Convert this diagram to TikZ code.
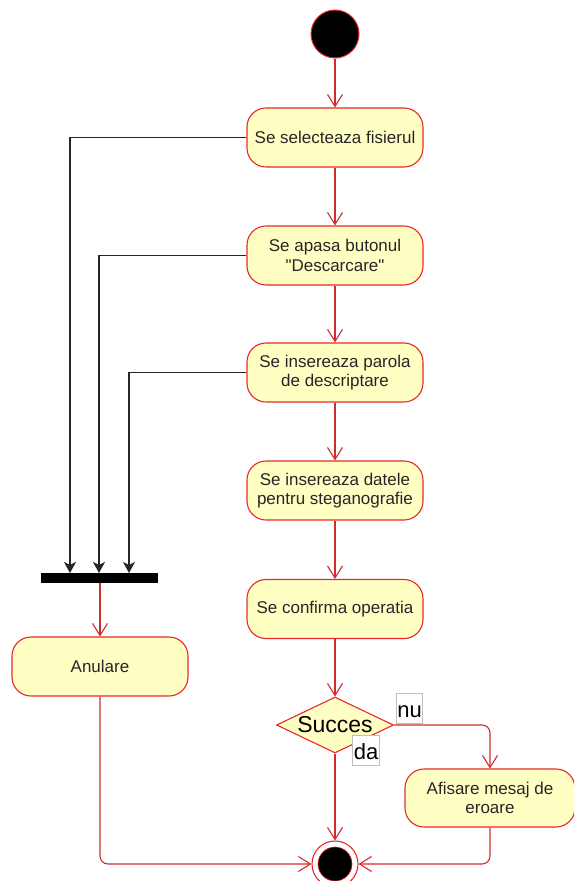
\documentclass[tikz,border=0pt]{standalone}
\usepackage{fontspec}
\setmainfont{Liberation Sans}[Ligatures=TeXOff]
\usetikzlibrary{arrows.meta,shapes.geometric}
\definecolor{actfill}{RGB}{255,255,196}
\definecolor{actline}{RGB}{232,40,40}
\definecolor{flowline}{RGB}{205,45,45}
\tikzset{
  act/.style={rectangle, rounded corners=19pt, draw=actline, fill=actfill,
    line width=1.1pt, minimum width=176pt, minimum height=59pt,
    align=center, inner sep=2pt, text=black!85,
    font=\fontsize{17}{19.5}\selectfont},
  flow/.style={draw=flowline, line width=1.1pt,
    -{Straight Barb[length=12pt,width=15pt]}},
  cancel/.style={draw=black!85, line width=1.3pt,
    -{Stealth[length=11pt,width=12pt,inset=3pt]}},
  guard/.style={draw=black!25, fill=white, line width=0.6pt, inner sep=1pt,
    text height=23pt, text depth=5pt, anchor=base,
    font=\fontsize{22}{22}\selectfont},
}
\begin{document}
\begin{tikzpicture}[x=1pt,y=-1pt]
  \useasboundingbox (0,0) rectangle (574,881);
  \clip (0,0) rectangle (574,881);
  \fill[white] (0,0) rectangle (574,881);

  % initial state
  \node (start) [circle, fill=black, draw=actline, line width=1pt,
    minimum size=48pt, inner sep=0pt] at (335,34) {};

  % main activity column
  \node (s1) [act] at (335,137.5) {Se selecteaza fisierul};
  \node (s2) [act] at (335,255.5) {Se apasa butonul\\"Descarcare"};
  \node (s3) [act] at (335,372.5) {Se insereaza parola\\de descriptare};
  \node (s4) [act] at (335,490.5) {Se insereaza datele\\pentru steganografie};
  \node (s5) [act] at (335,609)   {Se confirma operatia};

  % decision
  \node (dec) [diamond, draw=actline, fill=actfill, line width=1.1pt,
    minimum width=117pt, minimum height=56pt, inner sep=0pt,
    label={[font=\fontsize{23}{23}\selectfont, inner sep=0pt]center:Succes}]
    at (335,725) {};

  \node (err) [act, minimum width=170pt, minimum height=58pt] at (490,798)
    {Afisare mesaj de\\eroare};

  % cancel branch
  \node (bar) [rectangle, fill=black, minimum width=117pt, minimum height=10pt,
    inner sep=0pt] at (99.5,578) {};
  \node (anul) [act] at (100,666.5) {Anulare};
  \coordinate (j1) at (70,573);
  \coordinate (j2) at (99,573);
  \coordinate (j3) at (129,573);

  % final state
  \node (fin) [circle, draw=actline, fill=white, line width=1.1pt,
    minimum size=46pt, inner sep=0pt] at (335,864) {};
  \node (finc) [circle, fill=black, draw=actline, line width=0.6pt,
    minimum size=34pt, inner sep=0pt] at (335,864) {};

  % control flows
  \draw[flow] (start) -- (s1);
  \draw[flow] (s1) -- (s2);
  \draw[flow] (s2) -- (s3);
  \draw[flow] (s3) -- (s4);
  \draw[flow] (s4) -- (s5);
  \draw[flow] (s5) -- (dec);
  \draw[flow] (dec.south) -- (fin.north);
  \draw[flow, rounded corners=8pt] (dec.east) -| (err.north);
  \draw[flow, rounded corners=8pt] (err.south) |- (fin.east);
  \draw[flow, rounded corners=8pt] (anul.south) |- (fin.west);
  \draw[flow] (bar.south -| anul.north) -- (anul.north);

  \draw[cancel] (s1.west) -| (j1);
  \draw[cancel] (s2.west) -| (j2);
  \draw[cancel] (s3.west) -| (j3);

  % guards
  \node (nu) [guard] at (409.5,717.3) {nu};
  \node (da) [guard] at (366,759) {da};
\end{tikzpicture}
\end{document}
